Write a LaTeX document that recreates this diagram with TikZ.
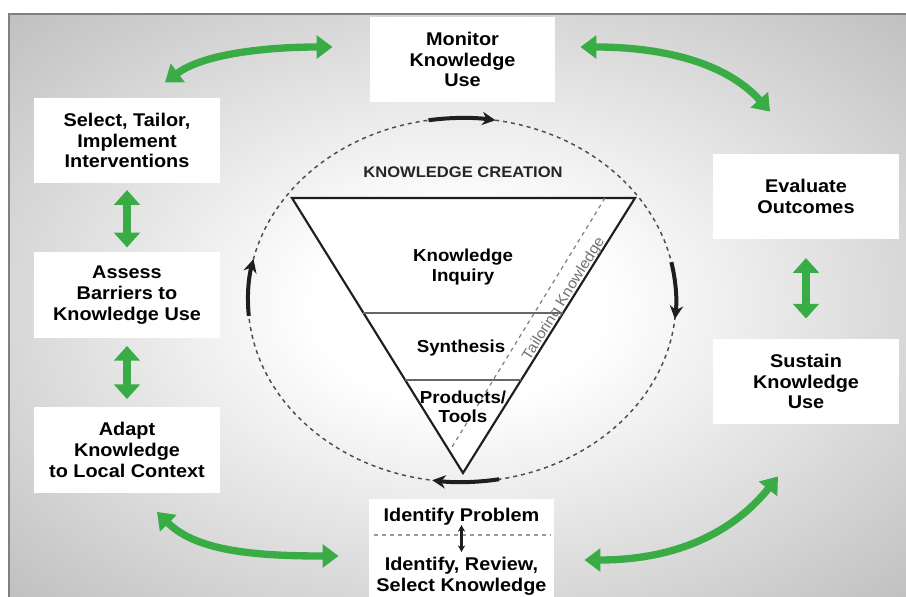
\documentclass[tikz,border=0pt]{standalone}
\usepackage{fontspec}
\setmainfont[FakeStretch=1.08]{Liberation Sans}
\usetikzlibrary{arrows.meta,calc}
\definecolor{linkgreen}{RGB}{58,172,70}
\definecolor{darkline}{RGB}{30,30,30}
\pgfdeclareradialshading{bgglow}{\pgfpoint{0bp}{0bp}}{color(0bp)=(white); color(8bp)=(white); color(50bp)=(black!38); color(72bp)=(black!42)}

\begin{document}
\begin{tikzpicture}[x=0.75pt, y=-0.75pt,
  box/.style={fill=white, minimum width=139pt, minimum height=64pt, inner sep=0pt, align=center,
    font=\fontsize{13.8}{15.6}\selectfont\bfseries},
  inner/.style={align=center, font=\fontsize{13}{14.5}\selectfont\bfseries},
  link/.style={linkgreen, line width=5.5pt, {Triangle[width=17pt,length=12pt]}-{Triangle[width=17pt,length=12pt]}},
  shortlink/.style={linkgreen, line width=6pt, {Triangle[width=19pt,length=11pt]}-{Triangle[width=19pt,length=11pt]}},
  turn/.style={darkline, line width=3pt, -{Stealth[length=10pt,width=10pt]}}]
  \useasboundingbox (0,0) rectangle (906,596);
  \shade[shading=bgglow, draw=black!50, line width=1.5pt] (9,14) rectangle (908,600);

  \node[box] (mon) at (462.5,59.5) {Monitor\\Knowledge\\Use};
  \node[box] (sel) at (127,140.5) {Select, Tailor,\\Implement\\Interventions};
  \node[box] (ass) at (127,295) {Assess\\Barriers to\\Knowledge Use};
  \node[box] (ada) at (127,450) {Adapt\\Knowledge\\to Local Context};
  \node[box] (eva) at (806,196.5) {Evaluate\\Outcomes};
  \node[box] (sus) at (806,381.5) {Sustain\\Knowledge\\Use};
  \node[box, minimum height=80pt] (idf) at (461.5,552) {};
  \node[box, fill=none, minimum height=0pt] (prob) at (461.5,517) {Identify Problem};
  \node[box, fill=none, minimum height=0pt] (rev) at (461.5,576) {Identify, Review,\\Select Knowledge};
  \draw[black!40, dashed, line width=0.9pt] ([xshift=4pt]idf.west |- 0,535) -- ([xshift=-3pt]idf.east |- 0,535);
  \draw[darkline, line width=1.8pt, {Stealth[length=5pt,width=5.5pt]}-{Stealth[length=5pt,width=5.5pt]}] (461.5,525) -- (461.5,552);

  % knowledge creation funnel
  \coordinate (tA) at (292,198);
  \coordinate (tB) at (635,198);
  \coordinate (tC) at (463,473);
  \node[black!85, font=\fontsize{11.5}{13}\selectfont\bfseries] (kc) at (463,172) {KNOWLEDGE CREATION};
  \draw[darkline, line width=1.6pt, fill=white] (tA) -- (tB) -- (tC) -- cycle;
  \draw[black!60, line width=1pt] ($(tA)!0.418!(tC)$) -- ($(tB)!0.418!(tC)$);
  \draw[black!60, line width=1pt] ($(tA)!0.662!(tC)$) -- ($(tB)!0.662!(tC)$);
  \draw[black!50, dashed, line width=0.9pt] (605,198) -- (452,447);
  \node[inner] (inq) at (463,267) {Knowledge\\Inquiry};
  \node[inner] (syn) at (461,348) {Synthesis};
  \node[inner] (pro) at (463,407) {Products/\\Tools};
  \node[black!55, rotate=58, font=\fontsize{11}{13}\selectfont] (tai) at (564,299) {Tailoring Knowledge};

  % cycle around the funnel
  \draw[black!70, dashed, line width=1.1pt] (462,300) ellipse [x radius=214, y radius=182];
  \foreach \a in {261,-12,80,175}
    \draw[turn] (462,300) ++(\a:214 and 182) arc [start angle=\a, delta angle=18, x radius=214, y radius=182];

  % action cycle
  \draw[link] ([shift={(38,-15)}]sel.north) .. controls +(40,-30) and +(-60,0) .. ([shift={(-37,-12.5)}]mon.west);
  \draw[link] ([shift={(25,-12.5)}]mon.east) .. controls +(80,0) and +(-45,-50) .. ([shift={(-36,-42)}]eva.north);
  \draw[shortlink] ([yshift=-5pt]sel.south) -- ([yshift=3.5pt]ass.north);
  \draw[shortlink] ([yshift=-6pt]ass.south) -- ([yshift=6pt]ada.north);
  \draw[shortlink] ([yshift=-14pt]eva.south) -- ([yshift=15pt]sus.north);
  \draw[link] ([shift={(30,19)}]ada.south) .. controls +(40,40) and +(-80,0) .. ([shift={(-30,4)}]idf.west);
  \draw[link] ([shift={(30,8)}]idf.east) .. controls +(100,0) and +(-40,50) .. ([shift={(-28,52)}]sus.south);
\end{tikzpicture}
\end{document}
